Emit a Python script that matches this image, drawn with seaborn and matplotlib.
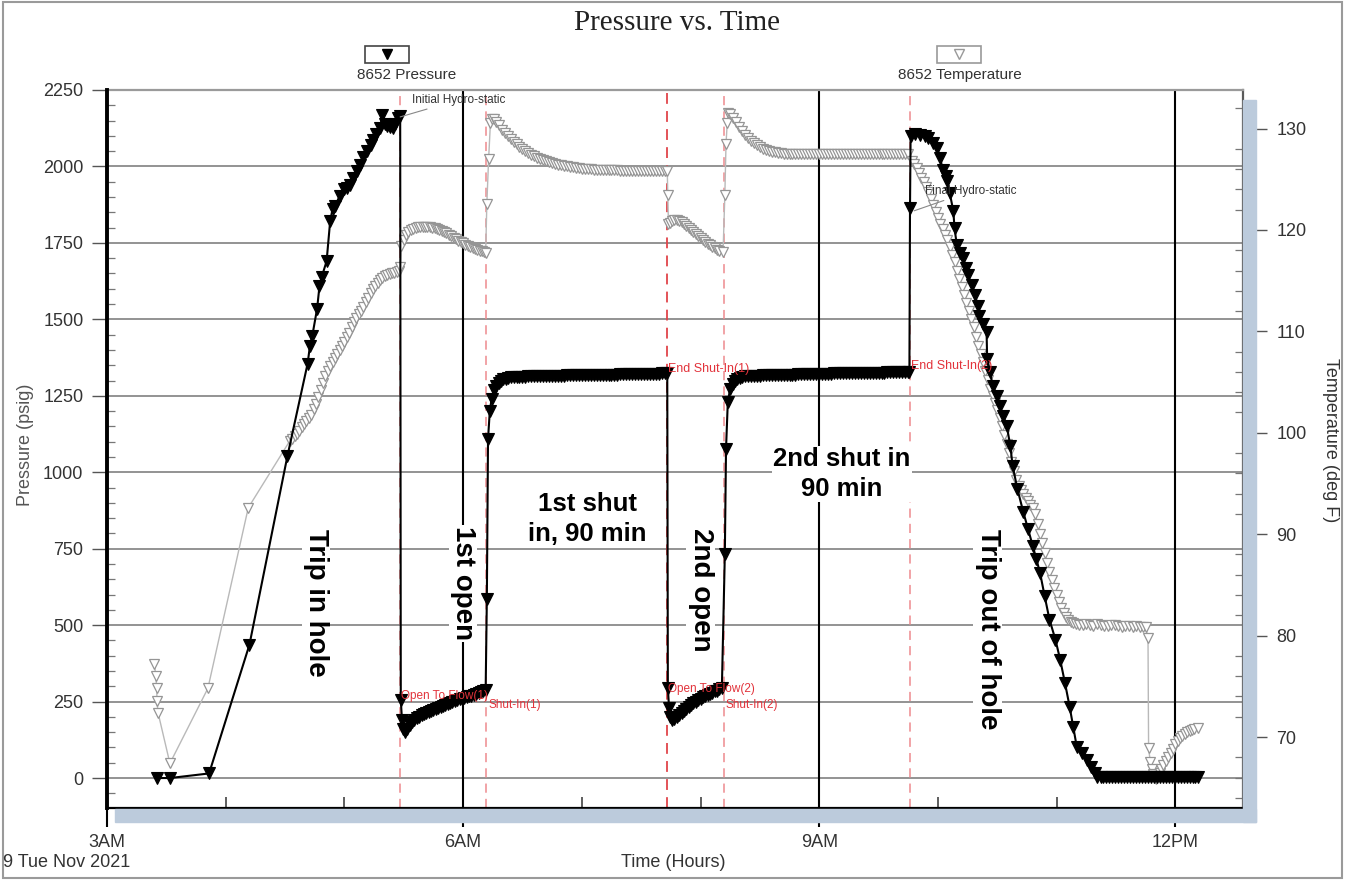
import matplotlib
matplotlib.use("Agg")
import numpy as np
import pandas as pd
import matplotlib.pyplot as plt
import seaborn as sns
from matplotlib.ticker import MultipleLocator, FixedLocator
from matplotlib.patches import Rectangle
from matplotlib.lines import Line2D
from matplotlib.transforms import blended_transform_factory

# ---------------- data (hours since midnight, psig, deg F) ----------------
TRIPIN_H = [3.42, 3.53, 3.86, 4.20, 4.52, 4.69, 4.71, 4.73, 4.77, 4.79, 4.81, 4.85,
            4.88, 4.90, 4.92, 4.96, 5.00, 5.02, 5.05, 5.07, 5.11, 5.13, 5.16, 5.19,
            5.22, 5.24, 5.27, 5.30, 5.32, 5.34, 5.36, 5.38, 5.41, 5.43, 5.45, 5.47]
TRIPIN_PSI = [0, 0, 15, 436, 1053, 1355, 1414, 1447, 1535, 1608, 1640, 1690,
              1821, 1860, 1870, 1903, 1925, 1929, 1940, 1962, 1985, 2005, 2030, 2050,
              2070, 2087, 2105, 2126, 2169, 2140, 2133, 2128, 2126, 2140, 2159, 2165]

FLOW1_H = [5.475, 5.485, 5.495, 5.51, 5.53, 5.55, 5.57, 5.59, 5.61, 5.63, 5.65, 5.67,
           5.69, 5.71, 5.73, 5.75, 5.77, 5.79, 5.81, 5.83, 5.85, 5.87, 5.89, 5.91,
           5.93, 5.95, 5.97, 5.99, 6.01, 6.03, 6.05, 6.07, 6.09, 6.11, 6.13, 6.15,
           6.17, 6.19]
FLOW1_PSI = [256, 190, 160, 152, 160, 172, 182, 190, 196, 201, 206, 210,
             213, 216, 219, 222, 225, 228, 231, 234, 238, 242, 245, 248,
             251, 254, 257, 260, 263, 265, 267, 269, 272, 275, 278, 281,
             285, 289]

BUILD1_H = [6.20, 6.21, 6.225, 6.24, 6.26, 6.28, 6.30, 6.32, 6.34, 6.36, 6.38,
            6.400, 6.425, 6.450, 6.475, 6.500, 6.525, 6.550, 6.575, 6.600, 6.625,
            6.650, 6.675, 6.700, 6.725, 6.750, 6.775, 6.800, 6.825, 6.850, 6.875,
            6.900, 6.925, 6.950, 6.975, 7.000, 7.025, 7.050, 7.075, 7.100, 7.125,
            7.150, 7.175, 7.200, 7.225, 7.250, 7.275, 7.300, 7.325, 7.350, 7.375,
            7.400, 7.425, 7.450, 7.475, 7.500, 7.525, 7.550, 7.575, 7.600, 7.625,
            7.650, 7.675, 7.700, 7.72]
BUILD1_PSI = [584, 1109, 1200, 1240, 1270, 1283, 1292, 1300, 1304, 1306, 1308,
              1310, 1311, 1312, 1312, 1313, 1313, 1314, 1314, 1314, 1315,
              1315, 1315, 1315, 1316, 1316, 1316, 1316, 1316, 1316, 1317,
              1317, 1317, 1317, 1317, 1317, 1318, 1318, 1318, 1318, 1318,
              1318, 1319, 1319, 1319, 1319, 1319, 1319, 1320, 1320, 1320,
              1320, 1320, 1320, 1321, 1321, 1321, 1321, 1322, 1322, 1322,
              1322, 1323, 1323, 1325]

FLOW2_H = [7.725, 7.735, 7.745, 7.76, 7.78, 7.80, 7.82, 7.84, 7.86, 7.88, 7.90,
           7.92, 7.94, 7.96, 7.98, 8.00, 8.02, 8.04, 8.06, 8.08, 8.10, 8.12, 8.14,
           8.16, 8.18]
FLOW2_PSI = [295, 230, 200, 190, 192, 198, 205, 212, 219, 226, 232,
             238, 244, 250, 255, 260, 264, 268, 272, 276, 279, 283, 286,
             290, 294]

BUILD2_H = [8.205, 8.215, 8.23, 8.25, 8.27, 8.29, 8.31, 8.33, 8.35, 8.375,
            8.400, 8.425, 8.450, 8.475, 8.500, 8.525, 8.550, 8.575, 8.600, 8.625,
            8.650, 8.675, 8.700, 8.725, 8.750, 8.775, 8.800, 8.825, 8.850, 8.875,
            8.900, 8.925, 8.950, 8.975, 9.000, 9.025, 9.050, 9.075, 9.100, 9.125,
            9.150, 9.175, 9.200, 9.225, 9.250, 9.275, 9.300, 9.325, 9.350, 9.375,
            9.400, 9.425, 9.450, 9.475, 9.500, 9.525, 9.550, 9.575, 9.600, 9.625,
            9.650, 9.675, 9.700, 9.725, 9.750, 9.76]
BUILD2_PSI = [732, 1076, 1230, 1273, 1290, 1299, 1305, 1309, 1312, 1314,
              1315, 1315, 1316, 1316, 1316, 1317, 1317, 1317, 1317, 1318,
              1318, 1318, 1318, 1319, 1319, 1319, 1319, 1320, 1320, 1320,
              1320, 1321, 1321, 1321, 1321, 1322, 1322, 1322, 1322, 1323,
              1323, 1323, 1323, 1324, 1324, 1324, 1324, 1325, 1325, 1325,
              1325, 1325, 1326, 1326, 1326, 1326, 1326, 1327, 1327, 1327,
              1327, 1327, 1328, 1328, 1328, 1328]

TRIPOUT_H = [9.765, 9.77, 9.81, 9.85, 9.89, 9.92, 9.96, 9.99, 10.02, 10.04, 10.07,
             10.08, 10.10, 10.13, 10.14, 10.16, 10.19, 10.21, 10.24, 10.25, 10.29,
             10.31, 10.34, 10.35, 10.38, 10.41, 10.415, 10.44, 10.46, 10.50, 10.52,
             10.55, 10.58, 10.61, 10.63, 10.67, 10.72, 10.76, 10.80, 10.83, 10.86,
             10.90, 10.94, 10.99, 11.03, 11.07, 11.11, 11.14, 11.17, 11.21, 11.26,
             11.29, 11.32, 11.34]
TRIPOUT_PSI = [1864, 2100, 2105, 2103, 2100, 2093, 2076, 2060, 2028, 1988, 1968,
               1952, 1913, 1854, 1798, 1742, 1716, 1700, 1667, 1644, 1611,
               1578, 1545, 1512, 1486, 1460, 1371, 1329, 1283, 1250, 1217,
               1184, 1152, 1086, 1020, 945, 869, 814, 758, 715, 672,
               594, 518, 453, 387, 312, 233, 167, 102, 82, 59,
               36, 16, 3]

SURFACE_H = [11.37, 11.395, 11.42, 11.445, 11.47, 11.495, 11.52, 11.545, 11.57, 11.595,
             11.62, 11.645, 11.67, 11.695, 11.72, 11.745, 11.77, 11.795, 11.82, 11.845,
             11.87, 11.895, 11.92, 11.945, 11.97, 11.995, 12.02, 12.045, 12.07, 12.095,
             12.12, 12.145, 12.17, 12.19]
SURFACE_PSI = [2, 2, 2, 2, 2, 2, 2, 2, 2, 2,
               2, 2, 2, 2, 2, 2, 2, 2, 2, 2,
               2, 2, 2, 2, 2, 2, 2, 2, 2, 2,
               2, 2, 2, 2]

T_TRIPIN_H = [3.40, 3.41, 3.42, 3.42, 3.43, 3.53, 3.85, 4.19,
              4.54, 4.56, 4.58, 4.60, 4.62, 4.64, 4.66, 4.68, 4.70, 4.72, 4.74, 4.76,
              4.78, 4.80, 4.82, 4.84, 4.86, 4.88, 4.90, 4.92, 4.94, 4.96, 4.98, 5.00,
              5.02, 5.04, 5.06, 5.08, 5.10, 5.12, 5.14, 5.16, 5.18, 5.20, 5.22, 5.24,
              5.26, 5.28, 5.30, 5.32, 5.34, 5.36, 5.38, 5.40, 5.42, 5.44, 5.46, 5.47]
T_TRIPIN_F = [77.2, 76.0, 74.8, 73.6, 72.4, 67.4, 74.8, 92.6,
              99.2, 99.4, 99.7, 99.9, 100.2, 100.6, 100.9, 101.2, 101.5, 101.8, 102.3, 102.8,
              103.5, 104.2, 104.9, 105.6, 106.1, 106.6, 107.0, 107.4, 107.8, 108.2, 108.6, 109.0,
              109.4, 109.8, 110.4, 110.9, 111.3, 111.7, 112.0, 112.4, 112.9, 113.3, 113.8, 114.2,
              114.5, 114.8, 115.1, 115.3, 115.5, 115.6, 115.7, 115.8, 115.8, 115.9, 116.0, 116.3]

T_FLOW1_H = [5.48, 5.50, 5.52, 5.54, 5.56, 5.58, 5.60, 5.62, 5.64, 5.66, 5.68, 5.70,
             5.72, 5.74, 5.76, 5.78, 5.80, 5.82, 5.84, 5.86, 5.88, 5.90, 5.92, 5.94,
             5.96, 5.98, 6.00, 6.02, 6.04, 6.06, 6.08, 6.10, 6.12, 6.14, 6.16, 6.18, 6.19]
T_FLOW1_F = [118.4, 119.0, 119.5, 119.8, 120.0, 120.1, 120.2, 120.3, 120.3, 120.3, 120.3, 120.3,
             120.3, 120.2, 120.2, 120.1, 120.0, 119.9, 119.8, 119.7, 119.5, 119.4, 119.2, 119.1,
             118.9, 118.8, 118.7, 118.5, 118.4, 118.3, 118.2, 118.1, 118.0, 117.9, 117.9, 117.8, 117.7]

T_BUILD1_H = [6.20, 6.215, 6.23, 6.245, 6.26,
              6.275, 6.300, 6.325, 6.350, 6.375, 6.400, 6.425, 6.450, 6.475, 6.500,
              6.525, 6.550, 6.575, 6.600, 6.625, 6.650, 6.675, 6.700, 6.725, 6.750,
              6.775, 6.800, 6.825, 6.850, 6.875, 6.900, 6.925, 6.950, 6.975, 7.000,
              7.025, 7.050, 7.075, 7.100, 7.125, 7.150, 7.175, 7.200, 7.225, 7.250,
              7.275, 7.300, 7.325, 7.350, 7.375, 7.400, 7.425, 7.450, 7.475, 7.500,
              7.525, 7.550, 7.575, 7.600, 7.625, 7.650, 7.675, 7.700, 7.72]
T_BUILD1_F = [122.6, 127.0, 130.5, 130.9, 130.9,
              130.6, 130.3, 129.9, 129.6, 129.3, 129.0, 128.7, 128.5, 128.2, 128.0,
              127.8, 127.6, 127.4, 127.3, 127.1, 127.0, 126.9, 126.8, 126.7, 126.6,
              126.5, 126.4, 126.4, 126.3, 126.3, 126.2, 126.2, 126.1, 126.1, 126.0,
              126.0, 126.0, 126.0, 125.9, 125.9, 125.9, 125.9, 125.9, 125.9, 125.9,
              125.9, 125.9, 125.8, 125.8, 125.8, 125.8, 125.8, 125.8, 125.8, 125.8,
              125.8, 125.8, 125.8, 125.8, 125.8, 125.8, 125.8, 125.8, 125.8]

T_FLOW2_H = [7.725, 7.73, 7.745, 7.76, 7.78, 7.80, 7.82, 7.84, 7.86, 7.88, 7.90, 7.92,
             7.94, 7.96, 7.98, 8.00, 8.02, 8.04, 8.06, 8.08, 8.10, 8.12, 8.14, 8.16, 8.19]
T_FLOW2_F = [123.4, 120.6, 120.7, 120.9, 121.0, 121.0, 120.9, 120.8, 120.6, 120.4, 120.2, 120.0,
             119.8, 119.6, 119.4, 119.2, 119.0, 118.8, 118.6, 118.5, 118.3, 118.2, 118.0, 117.9, 117.8]

T_BUILD2_H = [8.205, 8.215, 8.225, 8.235, 8.25,
              8.275, 8.300, 8.325, 8.350, 8.375, 8.400, 8.425, 8.450, 8.475, 8.500,
              8.525, 8.550, 8.575, 8.600, 8.625, 8.650, 8.675, 8.700, 8.725, 8.750,
              8.775, 8.800, 8.825, 8.850, 8.875, 8.900, 8.925, 8.950, 8.975, 9.000,
              9.025, 9.050, 9.075, 9.100, 9.125, 9.150, 9.175, 9.200, 9.225, 9.250,
              9.275, 9.300, 9.325, 9.350, 9.375, 9.400, 9.425, 9.450, 9.475, 9.500,
              9.525, 9.550, 9.575, 9.600, 9.625, 9.650, 9.675, 9.700, 9.725, 9.750]
T_BUILD2_F = [123.4, 128.5, 130.5, 131.5, 131.4,
              131.0, 130.6, 130.2, 129.8, 129.4, 129.1, 128.8, 128.6, 128.4, 128.2,
              128.0, 127.9, 127.8, 127.7, 127.7, 127.6, 127.6, 127.5, 127.5, 127.5,
              127.5, 127.5, 127.5, 127.5, 127.5, 127.5, 127.5, 127.5, 127.5, 127.5,
              127.5, 127.5, 127.5, 127.5, 127.5, 127.5, 127.5, 127.5, 127.5, 127.5,
              127.5, 127.5, 127.5, 127.5, 127.5, 127.5, 127.5, 127.5, 127.5, 127.5,
              127.5, 127.5, 127.5, 127.5, 127.5, 127.5, 127.5, 127.5, 127.5, 127.5]

T_TRIPOUT_H = [9.78, 9.80, 9.82, 9.84, 9.86, 9.88, 9.90, 9.92, 9.94, 9.96, 9.98, 10.00,
               10.02, 10.04, 10.06, 10.08, 10.10, 10.12, 10.14, 10.16, 10.18, 10.20, 10.22,
               10.24, 10.26, 10.28, 10.30, 10.32, 10.34, 10.36, 10.38, 10.40, 10.42, 10.44,
               10.46, 10.48, 10.50, 10.52, 10.54, 10.56, 10.58, 10.60, 10.62, 10.64, 10.66,
               10.68, 10.70, 10.72, 10.74, 10.76, 10.78, 10.80, 10.82, 10.84, 10.86, 10.88,
               10.90, 10.92, 10.94, 10.96, 10.98, 11.00, 11.02, 11.04, 11.06, 11.08, 11.10,
               11.12, 11.14, 11.16]
T_TRIPOUT_F = [126.8, 126.5, 126.1, 125.6, 125.1, 124.7, 124.2, 123.7, 123.1, 122.5, 121.8, 121.2,
               120.6, 120.1, 119.5, 119.0, 118.3, 117.5, 116.8, 116.0, 115.2, 114.4, 113.6,
               112.8, 112.0, 111.2, 110.4, 109.4, 108.6, 107.8, 107.0, 106.1, 105.2, 104.3,
               103.6, 102.9, 102.2, 101.5, 100.7, 99.8, 98.9, 98.0, 97.1, 96.2, 95.3,
               94.8, 94.4, 94.0, 93.6, 93.3, 92.9, 92.6, 92.0, 91.0, 90.0, 89.1,
               88.1, 87.2, 86.3, 85.5, 84.7, 84.0, 83.3, 82.7, 82.2, 81.8, 81.5,
               81.3, 81.2, 81.1]

T_SURFACE_H = [11.19, 11.22, 11.25, 11.28, 11.31, 11.34, 11.37, 11.40, 11.43, 11.46,
               11.49, 11.52, 11.55, 11.58, 11.61, 11.64, 11.67, 11.70, 11.73, 11.75,
               11.77, 11.775, 11.79, 11.80, 11.81, 11.82, 11.83, 11.84, 11.85, 11.86,
               11.87, 11.88, 11.90, 11.92, 11.94, 11.96, 11.98, 12.00, 12.02, 12.04,
               12.06, 12.08, 12.10, 12.12, 12.14, 12.16, 12.19]
T_SURFACE_F = [81.0, 81.0, 81.1, 81.0, 80.9, 81.1, 81.0, 80.9, 80.9, 81.0,
               81.0, 80.9, 80.8, 80.9, 80.9, 80.8, 80.9, 80.8, 80.8, 80.8,
               79.8, 68.9, 67.5, 66.8, 66.4, 66.2, 66.0, 65.9, 66.0, 66.2,
               66.5, 66.8, 67.2, 67.6, 68.0, 68.4, 68.8, 69.3, 69.6, 69.9,
               70.1, 70.3, 70.5, 70.6, 70.7, 70.8, 70.9]

EVENT_H = [5.47, 6.19, 7.72, 8.20, 9.765]
GRID_PSI = [0, 250, 500, 750, 1000, 1250, 1500, 1750, 2000, 2250]
X_TICKS = [3, 6, 9, 12]
X_LABELS = ["3AM", "6AM", "9AM", "12PM"]

P_PHASES = [(TRIPIN_H, TRIPIN_PSI), (FLOW1_H, FLOW1_PSI), (BUILD1_H, BUILD1_PSI),
            (FLOW2_H, FLOW2_PSI), (BUILD2_H, BUILD2_PSI), (TRIPOUT_H, TRIPOUT_PSI),
            (SURFACE_H, SURFACE_PSI)]
T_PHASES = [(T_TRIPIN_H, T_TRIPIN_F), (T_FLOW1_H, T_FLOW1_F), (T_BUILD1_H, T_BUILD1_F),
            (T_FLOW2_H, T_FLOW2_F), (T_BUILD2_H, T_BUILD2_F), (T_TRIPOUT_H, T_TRIPOUT_F),
            (T_SURFACE_H, T_SURFACE_F)]
for a, b in P_PHASES + T_PHASES:
    assert len(a) == len(b), (len(a), len(b))

p_df = pd.DataFrame({"hours": sum([a for a, _ in P_PHASES], []),
                     "psi": sum([b for _, b in P_PHASES], [])})
t_df = pd.DataFrame({"hours": sum([a for a, _ in T_PHASES], []),
                     "degF": sum([b for _, b in T_PHASES], [])})

# ---------------- styling ----------------
sns.set_theme(style="ticks")
plt.rcParams["font.family"] = ["Liberation Sans", "DejaVu Sans"]

W, H = 1345, 880
fig = plt.figure(figsize=(W / 100, H / 100), dpi=100)

def fx(px):
    return px / W

def fy(py):
    return 1 - py / H

shadow_c = "#bccbdc"
fig.patches.append(Rectangle((fx(1243), fy(822)), fx(13), fy(100) - fy(822),
                             transform=fig.transFigure, color=shadow_c, zorder=0))
fig.patches.append(Rectangle((fx(115), fy(822)), fx(1256 - 115), fy(809) - fy(822),
                             transform=fig.transFigure, color=shadow_c, zorder=0))
fig.patches.append(Rectangle((0.002, 0.002), 0.996, 0.996, transform=fig.transFigure,
                             fill=False, edgecolor="#9a9a9a", lw=1.5, zorder=0))

ax_t = fig.add_axes([fx(107), fy(808), fx(1243 - 107), fy(90) - fy(808)])
ax_p = ax_t.twinx()

XMIN, XMAX = 3.0, 3.0 + (1243 - 107) / 118.7
ax_t.set_xlim(XMIN, XMAX)
ax_p.set_ylim(-98, 2250)
ax_t.set_ylim(63.0, 133.8)

gtrans = blended_transform_factory(ax_t.transAxes, ax_p.transData)
for g in GRID_PSI:
    ax_t.add_line(Line2D([0, 1], [g, g], transform=gtrans, color="#8a8a8a", lw=1.3, zorder=0.5))
for xv in X_TICKS[1:]:
    ax_t.axvline(xv, color="black", lw=1.5, zorder=0.6)
for i, xv in enumerate(EVENT_H):
    ax_t.axvline(xv, color="#e0444a" if i == 2 else "#ee8a8e", lw=1.3 if i == 2 else 1.1,
                 ls=(0, (6, 4)), zorder=0.7)

sns.lineplot(data=t_df, x="hours", y="degF", ax=ax_t, sort=False, estimator=None,
             color="#b9b9b9", lw=1.0, marker="v", markersize=7.5,
             markerfacecolor="white", markeredgecolor="#959595", markeredgewidth=0.9,
             legend=False, zorder=2)
sns.lineplot(data=p_df, x="hours", y="psi", ax=ax_p, sort=False, estimator=None,
             color="black", lw=1.5, marker="v", markersize=8,
             markerfacecolor="black", markeredgecolor="black", markeredgewidth=0.8,
             legend=False, zorder=3)

ax_t.set_xlabel("")
ax_t.set_ylabel("")
ax_p.set_ylabel("")

ax_p.yaxis.tick_left()
ax_t.yaxis.tick_right()
ax_t.set_xticks(X_TICKS)
ax_t.set_xticklabels(X_LABELS)
ax_t.xaxis.set_minor_locator(FixedLocator([4, 5, 7, 8, 10, 11]))
ax_t.tick_params(axis="x", which="major", direction="out", length=14, width=1.5,
                 color="black", pad=5, labelsize=13, labelcolor="#333333")
ax_t.tick_params(axis="x", which="minor", direction="in", length=8, width=1.1, color="#333333")

ax_p.set_yticks(GRID_PSI)
ax_p.yaxis.set_minor_locator(MultipleLocator(50))
ax_p.tick_params(axis="y", which="major", direction="out", length=11, width=1.0,
                 color="#555555", pad=6, labelsize=13, labelcolor="#333333",
                 left=True, right=False, labelleft=True, labelright=False)
ax_p.tick_params(axis="y", which="minor", direction="in", length=6, width=0.9,
                 color="#777777", left=True, right=False)

ax_t.set_yticks([70, 80, 90, 100, 110, 120, 130])
ax_t.yaxis.set_minor_locator(MultipleLocator(2))
ax_t.tick_params(axis="y", which="major", direction="out", length=17, width=1.0,
                 color="#555555", pad=7, labelsize=13, labelcolor="#333333",
                 left=False, right=True, labelleft=False, labelright=True)
ax_t.tick_params(axis="y", which="minor", direction="in", length=6, width=0.9,
                 color="#777777", left=False, right=True)

for s in ["top", "right", "bottom"]:
    ax_p.spines[s].set_visible(False)
ax_p.spines["left"].set_color("black")
ax_p.spines["left"].set_linewidth(2.8)
ax_t.spines["left"].set_visible(False)
ax_t.spines["right"].set_color("#5a5a5a")
ax_t.spines["right"].set_linewidth(1.6)
ax_t.spines["top"].set_color("#9a9a9a")
ax_t.spines["top"].set_linewidth(1.6)
ax_t.spines["bottom"].set_color("black")
ax_t.spines["bottom"].set_linewidth(1.6)

red = "#e2333b"
ev_kw = dict(color=red, va="center", ha="left", zorder=6)
ax_p.text(5.475, 268, "Open To Flow(1)", fontsize=8.5, **ev_kw)
ax_p.text(6.215, 238, "Shut-In(1)", fontsize=8.5, **ev_kw)
ax_p.text(7.73, 1339, "End Shut-In(1)", fontsize=9, **ev_kw)
ax_p.text(7.725, 292, "Open To Flow(2)", fontsize=8.5, **ev_kw)
ax_p.text(8.21, 240, "Shut-In(2)", fontsize=8.5, **ev_kw)
ax_p.text(9.775, 1348, "End Shut-In(2)", fontsize=9, **ev_kw)

ax_p.annotate("Initial Hydro-static", xy=(5.47, 2162), xytext=(5.57, 2218),
              fontsize=8.5, color="#333333", va="center", ha="left",
              arrowprops=dict(arrowstyle="-", color="#888888", lw=0.8, shrinkA=0, shrinkB=0),
              zorder=6)
ax_p.annotate("Final Hydro-static", xy=(9.80, 1855), xytext=(9.89, 1919),
              fontsize=8.5, color="#333333", va="center", ha="left",
              arrowprops=dict(arrowstyle="-", color="#888888", lw=0.8, shrinkA=0, shrinkB=0),
              zorder=6)

bold_kw = dict(fontweight="bold", color="black", ha="center", va="center", zorder=7,
               bbox=dict(facecolor="white", edgecolor="none", pad=1.0))
ax_p.text(4.76, 574, "Trip in hole", rotation=270, fontsize=20, **bold_kw)
ax_p.text(6.00, 636, "1st open", rotation=270, fontsize=20, **bold_kw)
ax_p.text(7.05, 846, "1st shut\nin, 90 min", fontsize=18.5, linespacing=1.3, **bold_kw)
ax_p.text(8.00, 617, "2nd open", rotation=270, fontsize=20, **bold_kw)
ax_p.text(9.19, 994, "2nd shut in\n90 min", fontsize=18.5, linespacing=1.3, **bold_kw)
ax_p.text(10.42, 486, "Trip out of hole", rotation=270, fontsize=20, **bold_kw)

fig.text(fx(677), fy(23), "Pressure vs. Time", ha="center", va="center",
         fontsize=21, family=["Liberation Serif", "DejaVu Serif"], color="#222222")
fig.text(fx(407), fy(75), "8652 Pressure", ha="center", va="center", fontsize=11, color="#333333")
fig.text(fx(960), fy(75), "8652 Temperature", ha="center", va="center", fontsize=11, color="#333333")

for cx, filled in [(387, True), (959, False)]:
    fig.patches.append(Rectangle((fx(cx - 22), fy(63)), fx(44), fy(46) - fy(63),
                                 transform=fig.transFigure, fill=False,
                                 edgecolor="#444444" if filled else "#999999", lw=1.2))
    fig.lines.append(Line2D([fx(cx)], [fy(54)], transform=fig.transFigure, marker="v",
                            markersize=7, ls="none",
                            markerfacecolor="black" if filled else "white",
                            markeredgecolor="black" if filled else "#999999"))

fig.text(fx(25), fy(445), "Pressure (psig)", rotation=90, ha="center", va="center",
         fontsize=13, color="#555555")
fig.text(fx(1330), fy(440), "Temperature (deg F)", rotation=270, ha="center", va="center",
         fontsize=13, color="#333333")
fig.text(fx(673), fy(862), "Time (Hours)", ha="center", va="center", fontsize=13, color="#333333")
fig.text(fx(3), fy(862), "9 Tue Nov 2021", ha="left", va="center", fontsize=13, color="#333333")

fig.savefig("out.png", dpi=100)
